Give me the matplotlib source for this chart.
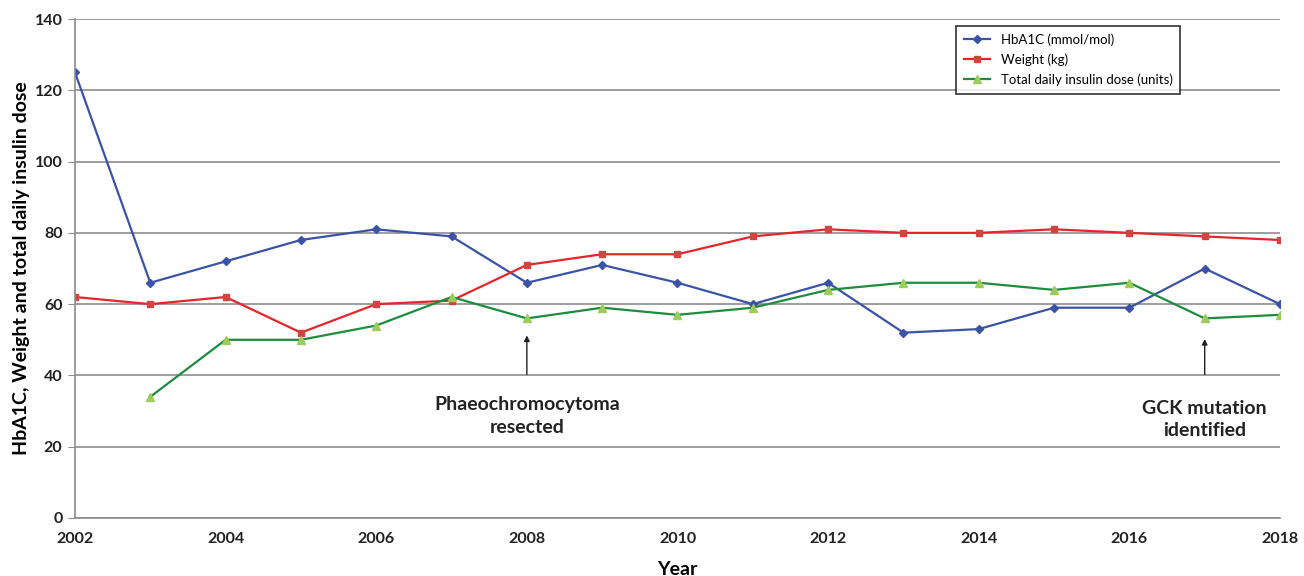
import matplotlib.pyplot as plt

# Данные
years = list(range(2002, 2019))
hba1c = [125, 66, 72, 78, 81, 79, 66, 71, 66, 60, 66, 52, 53, 59, 59, 70, 60]
weight = [62, 60, 62, 52, 60, 61, 71, 74, 74, 79, 81, 80, 80, 81, 80, 79, 78]
insulin_years = list(range(2003, 2019))
insulin = [34, 50, 50, 54, 62, 56, 59, 57, 59, 64, 66, 66, 64, 66, 56, 57]

plt.rcParams['font.family'] = ['Lato', 'DejaVu Sans']

fig = plt.figure(figsize=(13.04, 5.76), dpi=100)
ax = fig.add_axes([0.0575, 0.1007, 0.9241, 0.8663])

ax.plot(years, hba1c, color='#3A53A4', lw=1.6, marker='D', ms=4,
        mfc='#3A53A4', mec='#3A53A4', label='HbA1C (mmol/mol)')
ax.plot(years, weight, color='#E3262B', lw=1.6, marker='s', ms=5,
        mfc='#D0453F', mec='#D0453F', label='Weight (kg)')
ax.plot(insulin_years, insulin, color='#1E8B3E', lw=1.6, marker='^', ms=5.5,
        mfc='#9DCB5C', mec='#9DCB5C', label='Total daily insulin dose (units)')

ax.set_xlim(2002, 2018)
ax.set_ylim(0, 140)
ax.set_xticks(range(2002, 2019, 2))
ax.set_yticks(range(0, 141, 20))
ax.yaxis.grid(True, color='#8C8C8C', lw=1.2)
ax.set_axisbelow(True)
for s in ['top', 'right']:
    ax.spines[s].set_visible(False)
ax.spines['left'].set_color('#8C8C8C')
ax.spines['bottom'].set_color('#8C8C8C')
ax.spines['left'].set_linewidth(1.2)
ax.spines['bottom'].set_linewidth(1.2)
ax.tick_params(axis='y', length=5, color='#8C8C8C', labelsize=11.5, pad=4)
ax.tick_params(axis='x', length=0, labelsize=11.5, pad=10)
for lbl in ax.get_xticklabels() + ax.get_yticklabels():
    lbl.set_fontweight('bold')
    lbl.set_color('#222222')

ax.set_xlabel('Year', fontsize=14, fontweight='bold', labelpad=11)
ax.set_ylabel('HbA1C, Weight and total daily insulin dose', fontsize=14,
              fontweight='bold', labelpad=3)

# Аннотации
arrow = dict(arrowstyle='-|>', color='#222222', lw=1, mutation_scale=8)
ax.annotate('', xy=(2008, 52), xytext=(2008, 39.5), arrowprops=arrow)
ax.text(2008, 28.6, 'Phaeochromocytoma\nresected', ha='center', va='center',
        fontsize=14, fontweight='bold', color='#222222', linespacing=1.4)
ax.annotate('', xy=(2017, 51), xytext=(2017, 39.5), arrowprops=arrow)
ax.text(2017, 27.6, 'GCK mutation\nidentified', ha='center', va='center',
        fontsize=14, fontweight='bold', color='#222222', linespacing=1.4)

leg = ax.legend(loc='upper left', bbox_to_anchor=(0.7255, 1.0), fontsize=9.5,
                frameon=True, fancybox=False, edgecolor='black',
                handlelength=2.0, borderpad=0.6, labelspacing=0.55)
leg.get_frame().set_linewidth(1.2)

fig.savefig('out.png', dpi=100)
